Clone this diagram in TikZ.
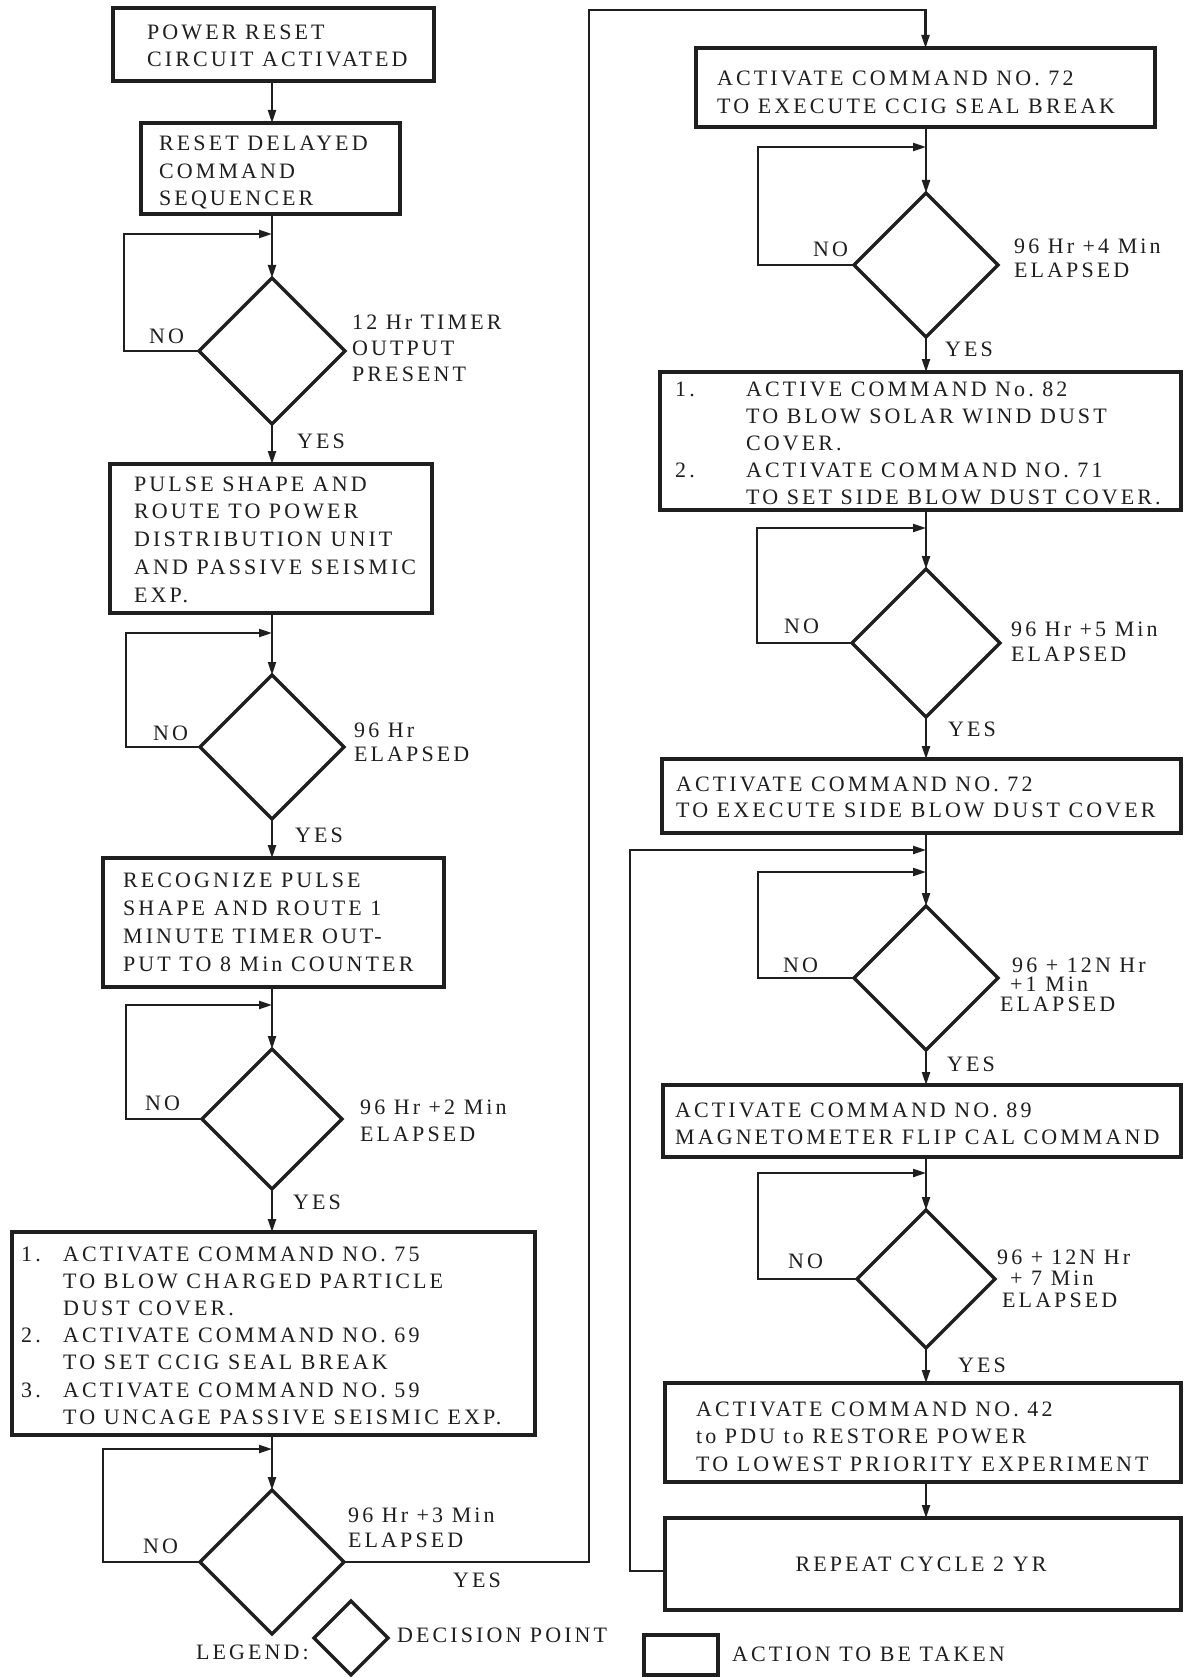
\documentclass[tikz,border=0pt]{standalone}
\usepackage{fontspec}
\setmainfont{Liberation Serif}[LetterSpace=14]
\usetikzlibrary{arrows.meta,shapes.geometric}
\newcommand\Lines[2]{\vtop{\baselineskip=#1pt\lineskiplimit=-1000pt\lineskip=0pt\relax#2}}
\newcommand\Lin[1]{\hbox{#1}}
\begin{document}
\begin{tikzpicture}[x=1pt,y=-1pt,
  box/.style={draw=black!88, line width=3.2pt, rectangle, inner sep=0pt, outer sep=0pt, anchor=north west},
  dec/.style={draw=black!88, line width=3.4pt, diamond, aspect=1, inner sep=0pt, outer sep=0pt},
  conn/.style={draw=black!88, line width=2.2pt},
  arr/.style={conn, -{Triangle[length=13pt,width=8pt]}},
  txt/.style={anchor=base west, inner sep=0pt, text=black!88, font=\fontsize{22}{27}\selectfont},
]
\useasboundingbox[fill=white] (0,0) rectangle (1185,1677);

% ---------- left column boxes ----------
\node[box, minimum width=321, minimum height=73]  (b1) at (113,8) {};
\node[box, minimum width=259, minimum height=91]  (b2) at (141,123) {};
\node[dec, minimum width=146, minimum height=146] (d1) at (272,351) {};
\node[box, minimum width=322, minimum height=149] (b3) at (110,464) {};
\node[dec, minimum width=144, minimum height=144] (d2) at (272,747) {};
\node[box, minimum width=341, minimum height=129] (b4) at (103,858) {};
\node[dec, minimum width=140, minimum height=140] (d3) at (272,1119) {};
\node[box, minimum width=523, minimum height=203] (b5) at (12,1232) {};
\node[dec, minimum width=144, minimum height=144] (d4) at (272,1562) {};

% ---------- right column boxes ----------
\node[box, minimum width=459, minimum height=79]  (b6) at (696,48) {};
\node[dec, minimum width=144, minimum height=144] (d5) at (926,265) {};
\node[box, minimum width=521, minimum height=138] (b7) at (660,372) {};
\node[dec, minimum width=148, minimum height=148] (d6) at (926,643) {};
\node[box, minimum width=519, minimum height=74]  (b8) at (662,759) {};
\node[dec, minimum width=144, minimum height=144] (d7) at (926,978) {};
\node[box, minimum width=518, minimum height=72]  (b9) at (663,1085) {};
\node[dec, minimum width=138, minimum height=138] (d8) at (926,1279) {};
\node[box, minimum width=516, minimum height=99]  (b10) at (665,1383) {};
\node[box, minimum width=516, minimum height=92]  (b11) at (665,1518) {};

% ---------- legend ----------
\node[dec, minimum width=74, minimum height=74] (ld) at (351,1638) {};
\node[box, minimum width=74, minimum height=40] (lb) at (644,1635) {};

% ---------- junction coordinates ----------
\coordinate (j1) at (272,234);  \coordinate (l1) at (124,234);
\coordinate (j2) at (272,633);  \coordinate (l2) at (126,633);
\coordinate (j3) at (272,1005); \coordinate (l3) at (126,1005);
\coordinate (j4) at (272,1449); \coordinate (l4) at (103,1449);
\coordinate (c1) at (589,10);
\coordinate (j5) at (926,147);  \coordinate (l5) at (758,147);
\coordinate (j6) at (926,528);  \coordinate (l6) at (757,528);
\coordinate (j8) at (926,850);  \coordinate (l8) at (630,850);
\coordinate (j7) at (926,872);  \coordinate (l7) at (758,872);
\coordinate (j9) at (926,1173); \coordinate (l9) at (758,1173);

% ---------- left column connectors ----------
\draw[arr] (b1.south -| d1) -- (b2.north -| d1);
\draw[arr] (b2.south -| d1) -- (d1.north);
\draw[arr] (d1.west) -| (l1) -- (j1);
\draw[arr] (d1.south) -- (b3.north -| d1);
\draw[arr] (b3.south -| d2) -- (d2.north);
\draw[arr] (d2.west) -| (l2) -- (j2);
\draw[arr] (d2.south) -- (b4.north -| d2);
\draw[arr] (b4.south -| d3) -- (d3.north);
\draw[arr] (d3.west) -| (l3) -- (j3);
\draw[arr] (d3.south) -- (b5.north -| d3);
\draw[arr] (b5.south -| d4) -- (d4.north);
\draw[arr] (d4.west) -| (l4) -- (j4);
\draw[arr] (d4.east) -| (c1) -| (b6.north);

% ---------- right column connectors ----------
\draw[arr] (b6.south -| d5) -- (d5.north);
\draw[arr] (d5.west) -| (l5) -- (j5);
\draw[arr] (d5.south) -- (b7.north -| d5);
\draw[arr] (b7.south -| d6) -- (d6.north);
\draw[arr] (d6.west) -| (l6) -- (j6);
\draw[arr] (d6.south) -- (b8.north -| d6);
\draw[arr] (b8.south -| d7) -- (d7.north);
\draw[arr] ([yshift=-7pt]b11.west) -| (l8) -- (j8);
\draw[arr] (d7.west) -| (l7) -- (j7);
\draw[arr] (d7.south) -- (b9.north -| d7);
\draw[arr] (b9.south -| d8) -- (d8.north);
\draw[arr] (d8.west) -| (l9) -- (j9);
\draw[arr] (d8.south) -- (b10.north -| d8);
\draw[arr] (b10.south -| d8) -- (b11.north -| d8);

% ---------- box texts ----------
\node[txt] (t1) at (147,40) {\Lines{27}{\Lin{POWER RESET}\Lin{CIRCUIT ACTIVATED}}};
\node[txt] (t2) at (159,151) {\Lines{27.5}{\Lin{RESET DELAYED}\Lin{COMMAND}\Lin{SEQUENCER}}};
\node[txt] (t3) at (134,491) {\Lines{27.8}{\Lin{PULSE SHAPE AND}\Lin{ROUTE TO POWER}\Lin{DISTRIBUTION UNIT}\Lin{AND PASSIVE SEISMIC}\Lin{EXP.}}};
\node[txt] (t4) at (123,887) {\Lines{28}{\Lin{RECOGNIZE PULSE}\Lin{SHAPE AND ROUTE 1}\Lin{MINUTE TIMER OUT-}\Lin{PUT TO 8 Min COUNTER}}};
\node[txt] (t5) at (21,1261) {\Lines{27.2}{%
  \Lin{\makebox[42pt][l]{1.}ACTIVATE COMMAND NO.\ 75}%
  \Lin{\makebox[42pt][l]{}TO BLOW CHARGED PARTICLE}%
  \Lin{\makebox[42pt][l]{}DUST COVER.}%
  \Lin{\makebox[42pt][l]{2.}ACTIVATE COMMAND NO. 69}%
  \Lin{\makebox[42pt][l]{}TO SET CCIG SEAL BREAK}%
  \Lin{\makebox[42pt][l]{3.}ACTIVATE COMMAND NO. 59}%
  \Lin{\makebox[42pt][l]{}TO UNCAGE PASSIVE SEISMIC EXP.}}};
\node[txt] (t6) at (717,86) {\Lines{28}{\Lin{ACTIVATE COMMAND NO. 72}\Lin{TO EXECUTE CCIG SEAL BREAK}}};
\node[txt] (t7) at (675,396) {\Lines{27}{%
  \Lin{\makebox[71pt][l]{1.}ACTIVE COMMAND No.\ 82}%
  \Lin{\makebox[71pt][l]{}TO BLOW SOLAR WIND DUST}%
  \Lin{\makebox[71pt][l]{}COVER.}%
  \Lin{\makebox[71pt][l]{2.}ACTIVATE COMMAND NO. 71}%
  \Lin{\makebox[71pt][l]{}TO SET SIDE BLOW DUST COVER.}}};
\node[txt] (t8) at (676,791) {\Lines{26}{\Lin{ACTIVATE COMMAND NO. 72}\Lin{TO EXECUTE SIDE BLOW DUST COVER}}};
\node[txt] (t9) at (675,1117) {\Lines{27}{\Lin{ACTIVATE COMMAND NO. 89}\Lin{MAGNETOMETER FLIP CAL COMMAND}}};
\node[txt] (t10) at (696,1416) {\Lines{27.5}{\Lin{ACTIVATE COMMAND NO. 42}\Lin{to PDU to RESTORE POWER}\Lin{TO LOWEST PRIORITY EXPERIMENT}}};
\node[txt, anchor=base] (t11) at (921,1571) {REPEAT CYCLE 2 YR};

% ---------- decision labels ----------
\node[txt] (n1) at (149,343) {NO};
\node[txt] (n2) at (153,740) {NO};
\node[txt] (n3) at (145,1110) {NO};
\node[txt] (n4) at (143,1553) {NO};
\node[txt] (n5) at (813,257) {NO};
\node[txt] (n6) at (784,633) {NO};
\node[txt] (n7) at (783,972) {NO};
\node[txt] (n8) at (788,1268) {NO};
\node[txt] (y1) at (297,448) {YES};
\node[txt] (y2) at (295,842) {YES};
\node[txt] (y3) at (293,1209) {YES};
\node[txt] (y4) at (453,1587) {YES};
\node[txt] (y5) at (945,356) {YES};
\node[txt] (y6) at (948,736) {YES};
\node[txt] (y7) at (947,1071) {YES};
\node[txt] (y8) at (958,1372) {YES};
\node[txt] (c1t) at (352,329) {\Lines{26}{\Lin{12 Hr TIMER}\Lin{OUTPUT}\Lin{PRESENT}}};
\node[txt] (c2t) at (354,737) {\Lines{24}{\Lin{96 Hr}\Lin{ELAPSED}}};
\node[txt] (c3t) at (360,1114) {\Lines{27}{\Lin{96 Hr +2 Min}\Lin{ELAPSED}}};
\node[txt] (c4t) at (348,1522) {\Lines{25}{\Lin{96 Hr +3 Min}\Lin{ELAPSED}}};
\node[txt] (c5t) at (1014,254) {\Lines{24}{\Lin{96 Hr +4 Min}\Lin{ELAPSED}}};
\node[txt] (c6t) at (1011,636) {\Lines{25}{\Lin{96 Hr +5 Min}\Lin{ELAPSED}}};
\node[txt] (c7t) at (1000,972) {\Lines{19.5}{\Lin{\hspace{12pt}96 + 12N Hr}\Lin{\hspace{10pt}+1 Min}\Lin{ELAPSED}}};
\node[txt] (c8t) at (997,1264) {\Lines{21.5}{\Lin{96 +\hspace{8pt}12N Hr}\Lin{\hspace{13pt}+ 7 Min}\Lin{\hspace{5pt}ELAPSED}}};

% ---------- legend texts ----------
\node[txt] (lg) at (196,1659) {LEGEND:};
\node[txt] (ldt) at (397,1642) {DECISION POINT};
\node[txt] (lbt) at (732,1661) {ACTION TO BE TAKEN};
\end{tikzpicture}
\end{document}
